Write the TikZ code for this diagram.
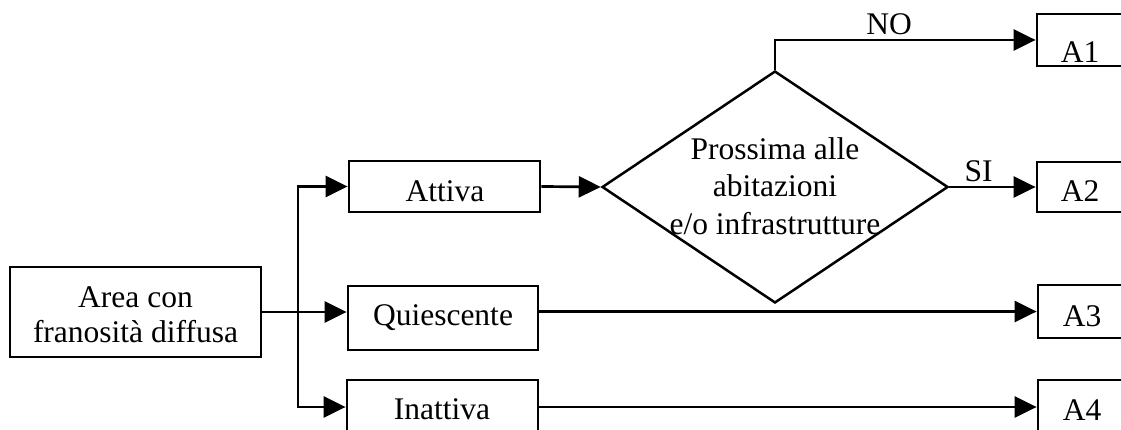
\documentclass[tikz,border=0pt]{standalone}
\usepackage{fontspec}
\setmainfont{Liberation Serif}
\usetikzlibrary{arrows.meta,shapes.geometric}
\begin{document}
\begin{tikzpicture}[x=1pt,y=-1pt,
  box/.style={draw,line width=2.8pt,inner sep=0pt,rectangle},
  lbl/.style={font=\fontsize{31.5}{37.5}\selectfont,inner sep=0pt,anchor=base},
  mlbl/.style={font=\fontsize{31.5}{37.5}\selectfont,inner sep=0pt,align=center},
  arr/.style={line width=2.7pt,-{Triangle[length=22pt,width=21pt]}}]
\useasboundingbox (0,0) rectangle (1121,430);
% boxes
\node[box,minimum width=251pt,minimum height=90pt] (area) at (135.5,312) {};
\node[box,minimum width=191pt,minimum height=51pt] (attiva) at (444.5,186.5) {};
\node[box,minimum width=190pt,minimum height=64pt] (quiesc) at (443,318) {};
\node[box,minimum width=191pt,minimum height=54pt] (inattiva) at (442.5,407) {};
\node[box,minimum width=88pt,minimum height=52pt] (a1) at (1081,40) {};
\node[box,minimum width=88pt,minimum height=50pt] (a2) at (1081,187) {};
\node[box,minimum width=87pt,minimum height=53pt] (a3) at (1081.5,311.5) {};
\node[box,minimum width=87pt,minimum height=54pt] (a4) at (1081.5,407) {};
\node[draw,diamond,line width=2.5pt,inner sep=0pt,minimum width=346pt,minimum height=232pt] (dia) at (775,187) {};
% texts
\node[mlbl,font=\fontsize{31.5}{35}\selectfont] (areat) at (135.5,315) {Area con\\franosità diffusa};
\node[mlbl] (diat) at (775,186) {Prossima alle\\abitazioni\\e/o infrastrutture};
\node[lbl] (attivat) at (445,202) {Attiva};
\node[lbl] (quiesct) at (443,325) {Quiescente};
\node[lbl] (inattivat) at (442,419) {Inattiva};
\node[lbl] (a1t) at (1080,63) {A1};
\node[lbl] (a2t) at (1080,202) {A2};
\node[lbl] (a3t) at (1082,326) {A3};
\node[lbl] (a4t) at (1082,420) {A4};
\node[lbl] (not) at (889,35) {NO};
\node[lbl] (sit) at (978.5,182) {SI};
% connectors
\coordinate (j) at (298,312);
\draw[arr] (area.east) -- (area.east -| quiesc.west);
\draw[arr] (j) |- (attiva.west);
\draw[arr] (j) |- (inattiva.west);
\draw[arr] (attiva.east) -- (dia.west);
\draw[arr] (dia.north) |- (a1.west);
\draw[arr] (dia.east) -- (a2.west);
\draw[arr] (a3.west -| quiesc.east) -- (a3.west);
\draw[arr] (inattiva.east) -- (a4.west);
\end{tikzpicture}
\end{document}
